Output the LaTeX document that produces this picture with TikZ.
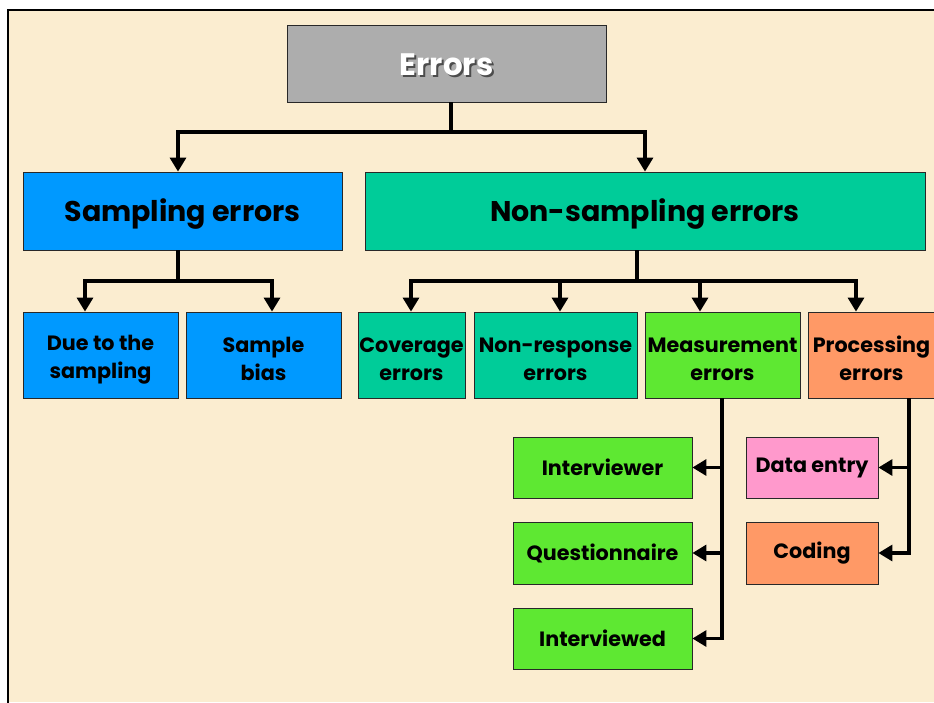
\documentclass[tikz,border=0pt]{standalone}
\usepackage{fontspec}
\setmainfont{Poppins}
\usetikzlibrary{arrows.meta}
\definecolor{parchment}{RGB}{251,237,208}
\definecolor{boxgray}{RGB}{173,173,173}
\definecolor{skyblue}{RGB}{0,153,255}
\definecolor{seagreen}{RGB}{0,204,153}
\definecolor{lime}{RGB}{94,232,50}
\definecolor{salmon}{RGB}{255,153,102}
\definecolor{pinkish}{RGB}{255,153,204}
\definecolor{edge}{RGB}{40,40,40}
% white title lettering with a dark drop shadow
\newcommand{\shadowed}[1]{\makebox[0pt][l]{\hspace{2pt}\raisebox{-1.6pt}{\textcolor{black!70}{#1}}}\textcolor{white}{#1}}
% taller first line, so two-line labels sit a little lower in their boxes
\newcommand{\midstrut}{\rule{0pt}{24pt}}
\tikzset{
  box/.style={draw=edge, line width=0.8pt, rectangle, inner sep=0pt, align=center, font=\bfseries},
  big/.style={box, font=\fontsize{28.5}{32}\selectfont\bfseries},
  mid/.style={box, font=\fontsize{20.7}{28}\selectfont\bfseries},
  small/.style={box, font=\fontsize{20.7}{28}\selectfont\bfseries},
  conn/.style={line width=3.2pt, line cap=butt, line join=miter},
  arr/.style={conn, -{Triangle[width=16pt,length=14pt]}},
  titletext/.style={font=\fontsize{31}{34}\selectfont\bfseries},
}
\begin{document}
\begin{tikzpicture}[x=1pt,y=-1pt]
  \useasboundingbox (0,0) rectangle (934,702);
  % page and frame
  \fill[white] (0,0) rectangle (934,702);
  \fill[parchment] (8,10) rectangle (934,702);
  \draw[line width=2.5pt] (8,720) -- (8,10) -- (950,10);

  % top level
  \node[box, titletext, fill=boxgray, minimum width=319pt, minimum height=77pt] (err) at (446.5,63.5) {\rule{0pt}{26pt}\shadowed{Errors}};

  % second level
  \node[big, fill=skyblue, minimum width=319pt, minimum height=78pt] (samp) at (182.5,211) {\rule{0pt}{28pt}Sampling errors};
  \node[big, fill=seagreen, minimum width=560pt, minimum height=78pt] (nons) at (645,211) {\rule{0pt}{28pt}Non-sampling errors};

  % third level
  \node[mid, fill=skyblue, minimum width=155pt, minimum height=86pt] (due) at (100.5,355) {\midstrut Due to the\\sampling};
  \node[mid, fill=skyblue, minimum width=155pt, minimum height=86pt] (bias) at (263.5,355) {\midstrut Sample\\bias};
  \node[mid, fill=seagreen, minimum width=107pt, minimum height=86pt] (cov) at (411.5,355) {\midstrut Coverage\\errors};
  \node[mid, fill=seagreen, minimum width=163pt, minimum height=86pt] (nonr) at (555.5,355) {\midstrut Non-response\\errors};
  \node[mid, fill=lime, minimum width=155pt, minimum height=86pt] (meas) at (722.5,355) {\midstrut Measurement\\errors};
  \node[mid, fill=salmon, minimum width=127pt, minimum height=86pt] (proc) at (871.5,355) {\midstrut Processing\\errors};

  % fourth level
  \node[small, fill=lime, minimum width=179pt, minimum height=61pt] (intv) at (602.5,467.5) {Interviewer};
  \node[small, fill=lime, minimum width=179pt, minimum height=62pt] (quest) at (602.5,553) {Questionnaire};
  \node[small, fill=lime, minimum width=179pt, minimum height=61pt] (intd) at (602.5,638.5) {Interviewed};
  \node[small, fill=pinkish, minimum width=132pt, minimum height=61pt] (data) at (812,467.5) {Data entry};
  \node[small, fill=salmon, minimum width=132pt, minimum height=62pt] (cod) at (812,553) {Coding};

  % junction points
  \coordinate (j1) at (451,132);
  \coordinate (a1) at (178,132);
  \coordinate (a2) at (645,132);
  \coordinate (j2) at (178,281);
  \coordinate (b1) at (85,281);
  \coordinate (b2) at (272,281);
  \coordinate (j3) at (637,281);
  \coordinate (c1) at (411,281);
  \coordinate (c2) at (560,281);
  \coordinate (c3) at (700,281);
  \coordinate (c4) at (856,281);
  \coordinate (m0) at (722,398);
  \coordinate (m1) at (722,467.5);
  \coordinate (m2) at (722,553);
  \coordinate (m3) at (722,638.5);
  \coordinate (p0) at (909,398);
  \coordinate (p1) at (909,467.5);
  \coordinate (p2) at (909,553);

  % connectors
  \draw[conn] (err.south -| j1) -- (j1);
  \draw[arr] (j1) -| (samp.north -| a1);
  \draw[arr] (j1) -| (nons.north -| a2);

  \draw[conn] (samp.south -| j2) -- (j2);
  \draw[arr] (j2) -| (due.north -| b1);
  \draw[arr] (j2) -| (bias.north -| b2);

  \draw[conn] (nons.south -| j3) -- (j3);
  \draw[arr] (j3) -| (cov.north -| c1);
  \draw[arr] (j3) -| (nonr.north -| c2);
  \draw[arr] (j3) -| (meas.north -| c3);
  \draw[arr] (j3) -| (proc.north -| c4);

  \draw[conn] (meas.south -| m0) -- (m3);
  \draw[arr] (m1) -- (intv.east |- m1);
  \draw[arr] (m2) -- (quest.east |- m2);
  \draw[arr] ([xshift=1.6pt]m3) -- (intd.east |- m3);

  \draw[conn] (proc.south -| p0) -- (p2);
  \draw[arr] (p1) -- (data.east |- p1);
  \draw[arr] ([xshift=1.6pt]p2) -- (cod.east |- p2);
\end{tikzpicture}
\end{document}
